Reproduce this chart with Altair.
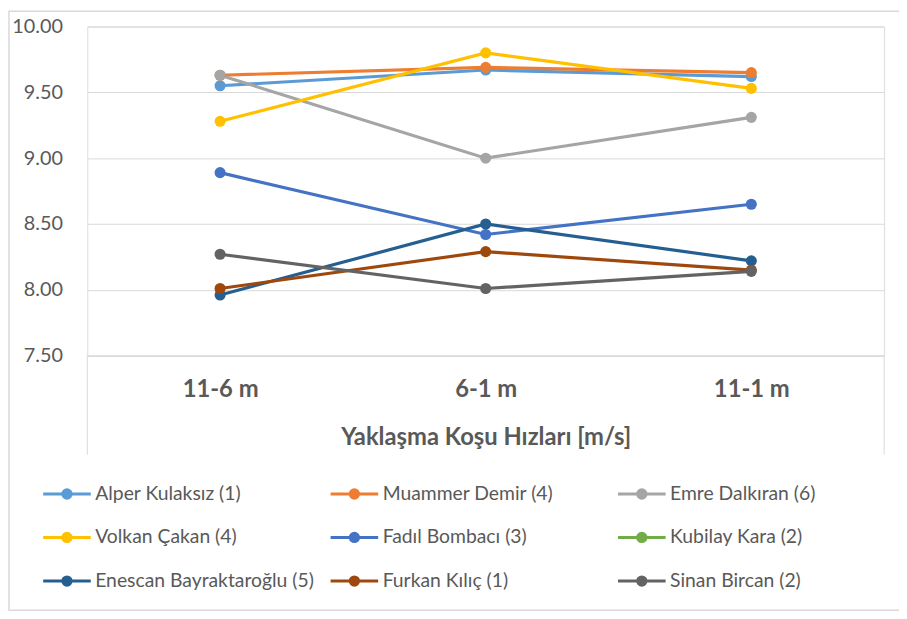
import altair as alt
import pandas as pd

categories = ["11-6 m", "6-1 m", "11-1 m"]
series_names = [
    "Alper Kulaksız (1)", "Muammer Demir (4)", "Emre Dalkıran (6)",
    "Volkan Çakan (4)", "Fadıl Bombacı (3)", "Kubilay Kara (2)",
    "Enescan Bayraktaroğlu (5)", "Furkan Kılıç (1)", "Sinan Bircan (2)",
]
alper = [9.55, 9.67, 9.62]
muammer = [9.63, 9.69, 9.65]
emre = [9.63, 9.00, 9.31]
volkan = [9.28, 9.80, 9.53]
fadil = [8.89, 8.42, 8.65]
kubilay = [None, None, None]
enescan = [7.96, 8.50, 8.22]
furkan = [8.01, 8.29, 8.15]
sinan = [8.27, 8.01, 8.14]
colors = ["#5B9BD5", "#ED7D31", "#A5A5A5", "#FFC000", "#4472C4",
          "#70AD47", "#255E91", "#9E480E", "#636363"]

all_series = [alper, muammer, emre, volkan, fadil, kubilay, enescan, furkan, sinan]
rows = []
for si, (name, vals) in enumerate(zip(series_names, all_series)):
    for ci, (cat, v) in enumerate(zip(categories, vals)):
        if v is not None:
            rows.append({"Sporcu": name, "Mesafe": cat, "Hiz": v, "ord": si})
df = pd.DataFrame(rows)

FONT = "Lato"
GRID = "#D9D9D9"
TXT = "#595959"
W, H = 804, 332

legend_path = ("M-2,0H2"
               "M-0.35,0a0.35,0.35 0 1,0 0.7,0a0.35,0.35 0 1,0 -0.7,0"
               "M-0.13,0a0.13,0.13 0 1,0 0.26,0a0.13,0.13 0 1,0 -0.26,0")

color = alt.Color(
    "Sporcu:N",
    scale=alt.Scale(domain=series_names, range=colors),
    sort=series_names,
    legend=alt.Legend(
        title=None, orient="none", legendX=-34, legendY=458,
        columns=3, direction="horizontal", gridAlign="all",
        columnPadding=10, rowPadding=20,
        symbolType=legend_path, symbolSize=576, symbolStrokeWidth=3,
        labelFont=FONT, labelFontSize=19.5, labelColor=TXT, labelOffset=15,
        padding=0, labelLimit=400,
    ),
)

x = alt.X(
    "Mesafe:N", sort=categories,
    scale=alt.Scale(paddingInner=0, paddingOuter=0),
    axis=alt.Axis(
        title="Yaklaşma Koşu Hızları [m/s]", labelAngle=0, ticks=False,
        labelFont=FONT, labelFontSize=24, labelFontWeight="bold", labelColor=TXT,
        labelPadding=22, titleFont=FONT, titleFontSize=24, titleFontWeight="bold",
        titleColor=TXT, titlePadding=25, domainColor=GRID, domainWidth=1,
    ),
)
y = alt.Y(
    "Hiz:Q",
    scale=alt.Scale(domain=[7.5, 10.0], nice=False, zero=False),
    axis=alt.Axis(
        title=None, values=[7.5, 8.0, 8.5, 9.0, 9.5, 10.0], format=".2f",
        ticks=False, domain=False, gridColor=GRID, gridWidth=1,
        labelFont=FONT, labelFontSize=20, labelColor=TXT, labelPadding=25,
    ),
)

base = alt.Chart(df).encode(x=x, y=y, color=color, detail="Sporcu:N")
lines = base.mark_line(strokeWidth=3.2)
points = base.mark_circle(size=125, opacity=1)

deco = alt.Data(values=[{"a": 1}])
left_edge = alt.Chart(deco).mark_rule(color=GRID, strokeWidth=1).encode(
    x=alt.value(0), y=alt.value(H), y2=alt.value(H + 100))
right_edge = alt.Chart(deco).mark_rule(color=GRID, strokeWidth=1).encode(
    x=alt.value(W), y=alt.value(H), y2=alt.value(H + 100))
border = alt.Chart(deco).mark_rect(fill=None, stroke=GRID, strokeWidth=1.5).encode(
    x=alt.value(-79), x2=alt.value(W + 60), y=alt.value(-15.5), y2=alt.value(589))

chart = alt.layer(border, left_edge, right_edge, lines, points).properties(
    width=W, height=H,
    autosize=alt.AutoSizeParams(type="none"),
    padding={"left": 80, "top": 16, "right": 15, "bottom": 258},
).configure_view(stroke=None).configure(background="white")

chart.save("out.html", embed_options={"renderer": "svg", "actions": False})
